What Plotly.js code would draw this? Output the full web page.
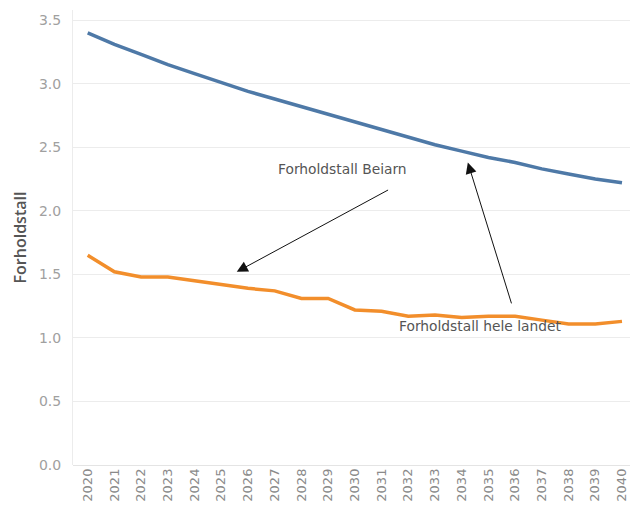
<!DOCTYPE html>
<html>
<head>
<meta charset="utf-8">
<script src="https://cdn.plot.ly/plotly-3.0.1.min.js"></script>
<style>html,body{margin:0;padding:0;background:#fff;}#chart{width:630px;height:511px;}</style>
</head>
<body>
<div id="chart"></div>
<script>
const years = [2020,2021,2022,2023,2024,2025,2026,2027,2028,2029,2030,2031,2032,2033,2034,2035,2036,2037,2038,2039,2040];
const blueSeries = [3.40,3.31,3.23,3.15,3.08,3.01,2.94,2.88,2.82,2.76,2.70,2.64,2.58,2.52,2.47,2.42,2.38,2.33,2.29,2.25,2.22];
const orangeSeries = [1.65,1.52,1.48,1.48,1.45,1.42,1.39,1.37,1.31,1.31,1.22,1.21,1.17,1.18,1.16,1.17,1.17,1.14,1.11,1.11,1.13];
const yTicks = [0,0.5,1.0,1.5,2.0,2.5,3.0,3.5];
const yTickLabels = ["0.0","0.5","1.0","1.5","2.0","2.5","3.0","3.5"];
const labelBeiarn = "Forholdstall Beiarn";
const labelLandet = "Forholdstall hele landet";

const traces = [
  {x: years, y: blueSeries, type: 'scatter', mode: 'lines', line: {color: '#4e79a7', width: 3.5}, hoverinfo: 'skip'},
  {x: years, y: orangeSeries, type: 'scatter', mode: 'lines', line: {color: '#f28e2b', width: 3.5}, hoverinfo: 'skip'}
];

const annFont = {family: 'DejaVu Sans, sans-serif', size: 13.8, color: '#555'};
const layout = {
  width: 630, height: 511,
  margin: {l: 73, r: 0, t: 10, b: 46},
  paper_bgcolor: '#fff', plot_bgcolor: '#fff',
  showlegend: false,
  font: {family: 'DejaVu Sans, sans-serif', color: '#888'},
  xaxis: {
    range: [2019.45, 2040.3], tickmode: 'array', tickvals: years, ticktext: years.map(String),
    tickangle: -90, tickfont: {size: 13, color: '#8a8a8a'}, showgrid: false, zeroline: false,
    showline: false, ticks: ''
  },
  yaxis: {
    range: [0, 3.58], tickmode: 'array', tickvals: yTicks, ticktext: yTickLabels,
    tickfont: {size: 14, color: '#a0a0a0'}, showgrid: true, gridcolor: '#ececec', gridwidth: 1,
    zeroline: true, zerolinecolor: '#e4e4e4', zerolinewidth: 1, showline: true, linecolor: '#ececec', ticks: '',
    ticklabelstandoff: 8,
    title: {text: 'Forholdstall', font: {family: 'Open Sans, sans-serif', size: 16, weight: 600, color: '#555'}, standoff: 8}
  },
  annotations: [
    {x: 2025.58, y: 1.52, ax: 2031.3, ay: 2.17, xref: 'x', yref: 'y', axref: 'x', ayref: 'y',
     showarrow: true, arrowhead: 2, arrowsize: 2.2, arrowwidth: 1, arrowcolor: '#111', text: ''},
    {x: 2034.23, y: 2.38, ax: 2035.88, ay: 1.26, xref: 'x', yref: 'y', axref: 'x', ayref: 'y',
     showarrow: true, arrowhead: 2, arrowsize: 2.2, arrowwidth: 1, arrowcolor: '#111', text: ''},
    {x: 2029.55, y: 2.33, xref: 'x', yref: 'y', text: labelBeiarn, showarrow: false, font: annFont},
    {x: 2034.7, y: 1.09, xref: 'x', yref: 'y', text: labelLandet, showarrow: false, font: annFont}
  ]
};
Plotly.newPlot('chart', traces, layout, {staticPlot: true, displayModeBar: false});
</script>
</body>
</html>
